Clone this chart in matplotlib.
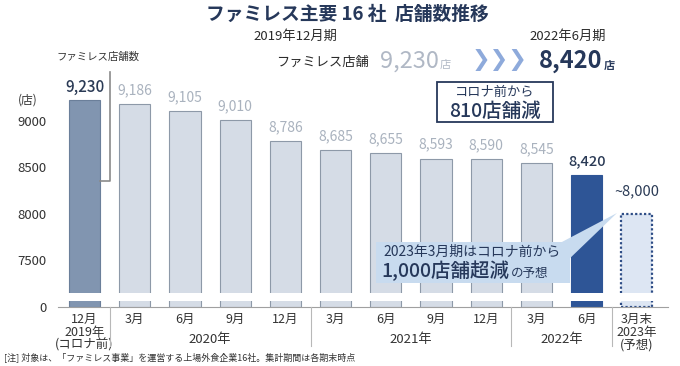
import matplotlib
matplotlib.use("Agg")
import matplotlib.pyplot as plt
import matplotlib.transforms as mtransforms
from matplotlib.patches import Rectangle, Polygon

plt.rcParams["font.family"] = ["Noto Sans CJK JP", "DejaVu Sans"]

# data
months = ["12月\n2019年\n(コロナ前)", "3月", "6月", "9月", "12月", "3月", "6月", "9月", "12月",
          "3月", "6月", "3月末\n2023年\n(予想)"]
stores = [9230, 9186, 9105, 9010, 8786, 8685, 8655, 8593, 8590, 8545, 8420, 8000]
value_labels = ["9,230", "9,186", "9,105", "9,010", "8,786", "8,685", "8,655", "8,593",
                "8,590", "8,545", "8,420", "~8,000"]
years = ["2020年", "2021年", "2022年"]
year_pos = [2.5, 6.5, 9.5]
separators = [0.5, 4.5, 8.5, 10.5]
yticks = [7500, 8000, 8500, 9000]

NAVY = "#26385a"
W, H = 680, 366


def fx(x):
    return x / W


def fy(y):
    return 1 - y / H


fig = plt.figure(figsize=(6.8, 3.66), dpi=100)

x0, x1 = fx(58), fx(668)
ax = fig.add_axes([x0, fy(293), x1 - x0, (293 - 60) / H])
axb = fig.add_axes([x0, fy(307), x1 - x0, (307 - 301) / H])

xs = list(range(len(stores)))
face = ["#8195b0"] + ["#d5dce6"] * 9 + ["#2e5596", "#dde6f3"]
edge = ["#6b7f9a"] + ["#8d99a8"] * 9 + ["#2e5596", "#2e4d86"]
ls = ["solid"] * 11 + [(0, (1, 1))]
lw = [0.8] * 11 + [1.6]

for a in (ax, axb):
    for i in xs:
        a.bar(i, stores[i], width=0.62, color=face[i], edgecolor=edge[i],
              linestyle=ls[i], linewidth=lw[i])
    a.set_xlim(-0.53, 11.62)
    for s in a.spines.values():
        s.set_visible(False)

ax.set_ylim(7144, 9658)
ax.set_yticks(yticks)
ax.set_yticklabels([str(v) for v in yticks], fontsize=9.5, color="#333333")
ax.tick_params(axis="y", length=0, pad=8)
ax.set_xticks([])

axb.set_ylim(0, 100)
axb.set_yticks([0])
axb.set_yticklabels(["0"], fontsize=9.5, color="#333333")
axb.tick_params(axis="y", length=0, pad=8)
axb.spines["bottom"].set_visible(True)
axb.spines["bottom"].set_color("#a0a0a0")
axb.set_xticks(xs)
axb.set_xticklabels(months, fontsize=9, color="#333333", linespacing=1.0)
axb.tick_params(axis="x", length=0, pad=4)

# value labels
lab_col = ["#2a3a55"] + ["#a9b2be"] * 9 + ["#2a3a55", "#2a3a55"]
lab_size = [11] + [10] * 9 + [10.5, 10.5]
lab_off = [3] + [5] * 9 + [5, 11]
for i in xs:
    ax.annotate(value_labels[i], (i, stores[i]), xytext=(0, lab_off[i]),
                textcoords="offset points", ha="center", va="bottom",
                fontsize=lab_size[i], color=lab_col[i],
                fontweight="medium" if i in (0, 10) else "normal")

# year labels and separators under the axis
tb = mtransforms.blended_transform_factory(axb.transData, fig.transFigure)
for p, y in zip(year_pos, years):
    fig.text(p, fy(340), y, transform=tb, ha="center", va="center",
             fontsize=9.5, color="#333333")
for s in separators:
    fig.add_artist(plt.Line2D([s, s], [fy(307), fy(346)], transform=tb,
                              color="#b8b8b8", lw=0.8))

# bracket beside the first bar
ax.plot([0.31, 0.5, 0.5], [8353, 8353, 9529], color="#8a8a8a", lw=1.2, clip_on=False)
fig.text(fx(98), fy(57), "ファミレス店舗数", ha="center", va="center",
         fontsize=7.5, color="#333333")
fig.text(fx(28), fy(100), "(店)", ha="center", va="center", fontsize=8.5, color="#333333")

# header
fig.text(fx(347), fy(14), "ファミレス主要 16 社  店舗数推移", ha="center", va="center",
         fontsize=13.5, fontweight="bold", color=NAVY)
fig.text(fx(295), fy(36), "2019年12月期", ha="center", va="center",
         fontsize=9.5, color="#2a2a2a")
fig.text(fx(568), fy(36), "2022年6月期", ha="center", va="center",
         fontsize=9.5, color="#2a2a2a")
fig.text(fx(276), fy(62), "ファミレス店舗", ha="left", va="center",
         fontsize=9.5, color="#2a2a2a")
n1 = fig.text(fx(380), fy(61), "9,230", ha="left", va="center",
              fontsize=17, color="#b0b8c5")
fig.text(fx(500), fy(60), "❯❯❯", ha="center", va="center", fontsize=16,
         fontweight="bold", color="#8eaadb", family=["DejaVu Sans"])
n2 = fig.text(fx(539), fy(61), "8,420", ha="left", va="center", fontsize=17,
              fontweight="bold", color=NAVY)

# 810 box
fig.add_artist(Rectangle((fx(437), fy(122)), fx(116), 40 / H, transform=fig.transFigure,
                         facecolor="white", edgecolor=NAVY, lw=1.3))
fig.text(fx(495), fy(92), "コロナ前から", ha="center", va="center",
         fontsize=9.5, color=NAVY)
fig.text(fx(495), fy(111), "810店舗減", ha="center", va="center",
         fontsize=14, color=NAVY, fontweight="medium")

# callout
CALL = "#c8dbef"
fig.add_artist(Polygon([(fx(560), fy(243)), (fx(617), fy(213)), (fx(566), fy(262))],
                       closed=True, transform=fig.transFigure, facecolor=CALL,
                       edgecolor="none"))
fig.add_artist(Rectangle((fx(376), fy(283)), fx(194), 41 / H, transform=fig.transFigure,
                         facecolor=CALL, edgecolor="none"))
fig.text(fx(383), fy(252), "2023年3月期はコロナ前から", ha="left", va="center",
         fontsize=10, color=NAVY)
t1 = fig.text(fx(381), fy(271), "1,000店舗超減", ha="left", va="center",
              fontsize=14, color=NAVY, fontweight="medium")

fig.canvas.draw()
fig_w = fig.get_figwidth() * fig.dpi
fig.text(t1.get_window_extent().x1 / fig_w + fx(2), fy(273), "の予想", ha="left",
         va="center", fontsize=9, color=NAVY)
fig.text(n1.get_window_extent().x1 / fig_w + fx(1), fy(65), "店", ha="left",
         va="center", fontsize=8, color="#b0b8c5")
fig.text(n2.get_window_extent().x1 / fig_w + fx(1), fy(65), "店", ha="left",
         va="center", fontsize=8, fontweight="bold", color=NAVY)

# note
fig.text(fx(4), fy(357), "[注] 対象は、「ファミレス事業」を運営する上場外食企業16社。集計期間は各期末時点",
         ha="left", va="center", fontsize=6.5, color="#333333")

fig.savefig("out.png", dpi=100)
